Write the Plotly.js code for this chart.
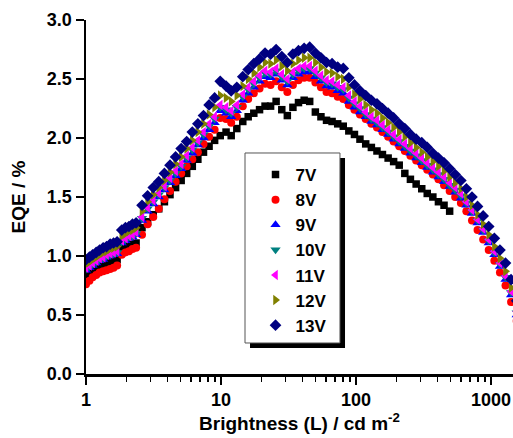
<!DOCTYPE html>
<html>
<head>
<meta charset="utf-8">
<script src="https://cdn.plot.ly/plotly-3.0.1.min.js"></script>
<style>html,body{margin:0;padding:0;background:#fff;}#chart{width:513px;height:438px;}</style>
</head>
<body>
<div id="chart"></div>
<script>
// Brightness (cd m^-2)
var brightness = [1.00,1.06,1.12,1.19,1.26,1.34,1.42,1.51,1.60,1.70,
  1.84,1.96,2.08,2.21,2.35,
  2.6,2.86,3.15,3.46,3.81,4.19,4.61,5.07,5.57,6.13,6.74,7.42,8.16,8.97,9.87,
  10.9,11.9,13.1,14.5,15.9,17.5,19.3,21.2,23.3,25.6,28.2,31.0,34.1,37.5,41.3,45.4,
  50.0,55.0,60.5,66.5,73.2,80.5,88.5,97.4,107,118,130,143,157,173,190,209,230,253,
  279,307,337,371,408,449,494,543,598,657,723,795,875,962,1059,1165,1281,1409,1550];

var eqe7V = [0.84,0.86,0.88,0.90,0.91,0.93,0.94,0.95,0.96,0.97,
  1.06,1.07,1.08,1.10,1.11,
  1.24,1.29,1.35,1.40,1.46,1.52,1.58,1.64,1.70,1.76,1.82,1.88,1.93,1.98,2.02,
  2.05,2.02,2.08,2.14,2.18,2.21,2.24,2.27,2.27,2.31,2.24,2.19,2.26,2.30,2.32,2.31,
  2.22,2.18,2.15,2.14,2.12,2.10,2.06,2.03,1.99,1.95,1.92,1.89,1.86,1.83,1.80,1.77,1.70,1.65,
  1.61,1.57,1.53,1.50,1.46,1.43,1.38,null,null,null,null,null,null,null,null,null,null,null,null];

var eqe8V = [0.76,0.79,0.82,0.84,0.86,0.87,0.88,0.89,0.90,0.92,
  1.01,1.03,1.04,1.06,1.07,
  1.18,1.27,1.33,1.40,1.48,1.55,1.63,1.70,1.76,1.82,1.88,1.95,2.01,2.07,2.17,
  2.16,2.13,2.18,2.27,2.33,2.38,2.42,2.46,2.45,2.48,2.43,2.39,2.45,2.49,2.51,2.51,
  2.47,2.43,2.39,2.38,2.35,2.33,2.28,2.24,2.20,2.16,2.12,2.09,2.05,2.01,1.97,1.93,1.89,1.85,
  1.81,1.77,1.73,1.69,1.65,1.60,1.55,1.50,1.45,1.38,1.30,1.22,1.14,1.05,0.96,0.86,0.75,0.61,0.45];

var eqe9V = [0.88,0.90,0.92,0.94,0.96,0.97,0.99,1.00,1.01,1.02,
  1.11,1.13,1.15,1.16,1.18,
  1.30,1.38,1.44,1.50,1.56,1.62,1.68,1.74,1.81,1.87,1.94,2.00,2.07,2.13,2.23,
  2.21,2.18,2.23,2.32,2.38,2.43,2.48,2.52,2.51,2.54,2.49,2.45,2.51,2.54,2.56,2.56,
  2.52,2.48,2.44,2.43,2.40,2.38,2.31,2.26,2.22,2.18,2.14,2.11,2.07,2.03,1.99,1.95,1.91,1.87,
  1.83,1.79,1.75,1.71,1.67,1.63,1.59,1.54,1.49,1.43,1.36,1.28,1.20,1.11,1.01,0.91,0.80,0.67,0.50];

var eqe10V = [0.89,0.91,0.93,0.95,0.97,0.98,1.00,1.01,1.02,1.03,
  1.12,1.14,1.16,1.17,1.19,
  1.32,1.40,1.46,1.52,1.58,1.64,1.70,1.76,1.83,1.90,1.96,2.03,2.10,2.16,2.26,
  2.24,2.21,2.26,2.35,2.41,2.46,2.51,2.55,2.54,2.57,2.52,2.48,2.54,2.57,2.59,2.59,
  2.55,2.51,2.47,2.46,2.43,2.41,2.34,2.29,2.25,2.20,2.16,2.13,2.09,2.05,2.01,1.97,1.93,1.89,
  1.85,1.81,1.77,1.73,1.69,1.65,1.60,1.56,1.51,1.45,1.38,1.30,1.22,1.13,1.03,0.93,0.82,0.69,0.52];

var eqe11V = [0.90,0.92,0.94,0.96,0.98,0.99,1.01,1.02,1.03,1.04,
  1.13,1.15,1.17,1.18,1.20,
  1.33,1.41,1.47,1.53,1.59,1.66,1.72,1.78,1.85,1.92,1.98,2.05,2.12,2.18,2.28,
  2.26,2.23,2.28,2.37,2.43,2.48,2.53,2.57,2.56,2.59,2.54,2.50,2.56,2.59,2.61,2.61,
  2.57,2.53,2.49,2.48,2.45,2.43,2.36,2.31,2.27,2.22,2.18,2.15,2.11,2.07,2.03,1.99,1.95,1.91,
  1.87,1.83,1.79,1.75,1.71,1.67,1.62,1.58,1.53,1.46,1.39,1.31,1.23,1.14,1.04,0.94,0.83,0.70,0.53];

var eqe12V = [0.93,0.95,0.97,0.99,1.01,1.03,1.04,1.06,1.07,1.08,
  1.17,1.19,1.21,1.22,1.24,
  1.38,1.46,1.52,1.58,1.64,1.71,1.78,1.84,1.91,1.98,2.05,2.12,2.20,2.26,2.36,
  2.34,2.31,2.36,2.44,2.50,2.55,2.60,2.64,2.63,2.66,2.61,2.57,2.63,2.66,2.68,2.68,
  2.64,2.60,2.56,2.55,2.52,2.50,2.43,2.37,2.33,2.28,2.24,2.21,2.17,2.13,2.09,2.05,2.01,1.96,
  1.92,1.88,1.84,1.80,1.76,1.72,1.67,1.62,1.57,1.50,1.43,1.35,1.27,1.18,1.08,0.98,0.87,0.73,0.56];

var eqe13V = [0.97,0.99,1.01,1.03,1.05,1.07,1.08,1.10,1.11,1.12,
  1.22,1.24,1.25,1.27,1.28,
  1.43,1.51,1.58,1.63,1.70,1.77,1.84,1.91,1.97,2.05,2.12,2.19,2.28,2.34,2.48,
  2.44,2.40,2.43,2.52,2.58,2.63,2.67,2.72,2.71,2.75,2.69,2.64,2.71,2.74,2.76,2.77,
  2.72,2.68,2.64,2.63,2.60,2.59,2.51,2.45,2.40,2.36,2.32,2.29,2.25,2.21,2.17,2.12,2.08,2.03,
  1.99,1.96,1.92,1.87,1.83,1.79,1.74,1.69,1.64,1.57,1.50,1.42,1.34,1.25,1.15,1.05,0.94,0.80,0.62];

var seriesNames = ['7V','8V','9V','10V','11V','12V','13V'];
var seriesValues = [eqe7V, eqe8V, eqe9V, eqe10V, eqe11V, eqe12V, eqe13V];
var seriesColors = ['#000000','#ff0000','#0000ff','#008080','#ff00ff','#808000','#000080'];
var seriesSymbols = ['square','circle','triangle-up','triangle-down','triangle-left','triangle-right','diamond'];
var seriesSizes = [7.5,8,9,9,9,9,9];

var traces = seriesNames.map(function(n, i){
  return {
    x: brightness, y: seriesValues[i], name: n, type: 'scatter', mode: 'markers',
    marker: {symbol: seriesSymbols[i], color: seriesColors[i], size: seriesSizes[i], line: {width: 0}}
  };
});

var font = 'Liberation Sans, Arial, sans-serif';
var layout = {
  width: 513, height: 438,
  margin: {l: 86, r: 0, t: 20, b: 64},
  paper_bgcolor: '#fff', plot_bgcolor: '#fff',
  showlegend: true,
  legend: {
    x: 0.397, y: 0.613, xanchor: 'left', yanchor: 'top',
    bgcolor: 'rgba(0,0,0,0)', borderwidth: 0,
    font: {family: font, size: 17, color: '#000', weight: 'bold'}
  },
  xaxis: {
    type: 'log', range: [0, 3.163],
    showline: true, linecolor: '#000', linewidth: 2.5,
    ticks: 'outside', ticklen: 8, tickwidth: 2, tickcolor: '#000',
    dtick: 1, showgrid: false, zeroline: false,
    tickfont: {family: font, size: 18, color: '#000', weight: 'bold'},
    minor: {ticks: 'outside', ticklen: 5, tickwidth: 1.5, tickcolor: '#000', dtick: 'D1', showgrid: false},
    title: {text: 'Brightness (L) / cd m<sup>-2</sup>', font: {family: font, size: 19, color: '#000', weight: 'bold'}, standoff: 8}
  },
  yaxis: {
    range: [0, 3.0],
    showline: true, linecolor: '#000', linewidth: 2.5,
    ticks: 'outside', ticklen: 8, tickwidth: 2, tickcolor: '#000',
    dtick: 0.5, tickformat: '.1f', showgrid: false, zeroline: false,
    tickfont: {family: font, size: 18, color: '#000', weight: 'bold'},
    title: {text: 'EQE / %', font: {family: font, size: 19, color: '#000', weight: 'bold'}, standoff: 16}
  },
  shapes: [
    {type: 'rect', xref: 'paper', yref: 'paper', x0: 0.3841, x1: 0.6066, y0: 0.0734, y1: 0.6102,
     fillcolor: '#000', line: {width: 0}, layer: 'above'},
    {type: 'rect', xref: 'paper', yref: 'paper', x0: 0.3724, x1: 0.5948, y0: 0.0876, y1: 0.6243,
     fillcolor: '#fff', line: {color: '#555', width: 1}, layer: 'above'}
  ]
};

Plotly.newPlot('chart', traces, layout, {displayModeBar: false, staticPlot: true});
</script>
</body>
</html>
